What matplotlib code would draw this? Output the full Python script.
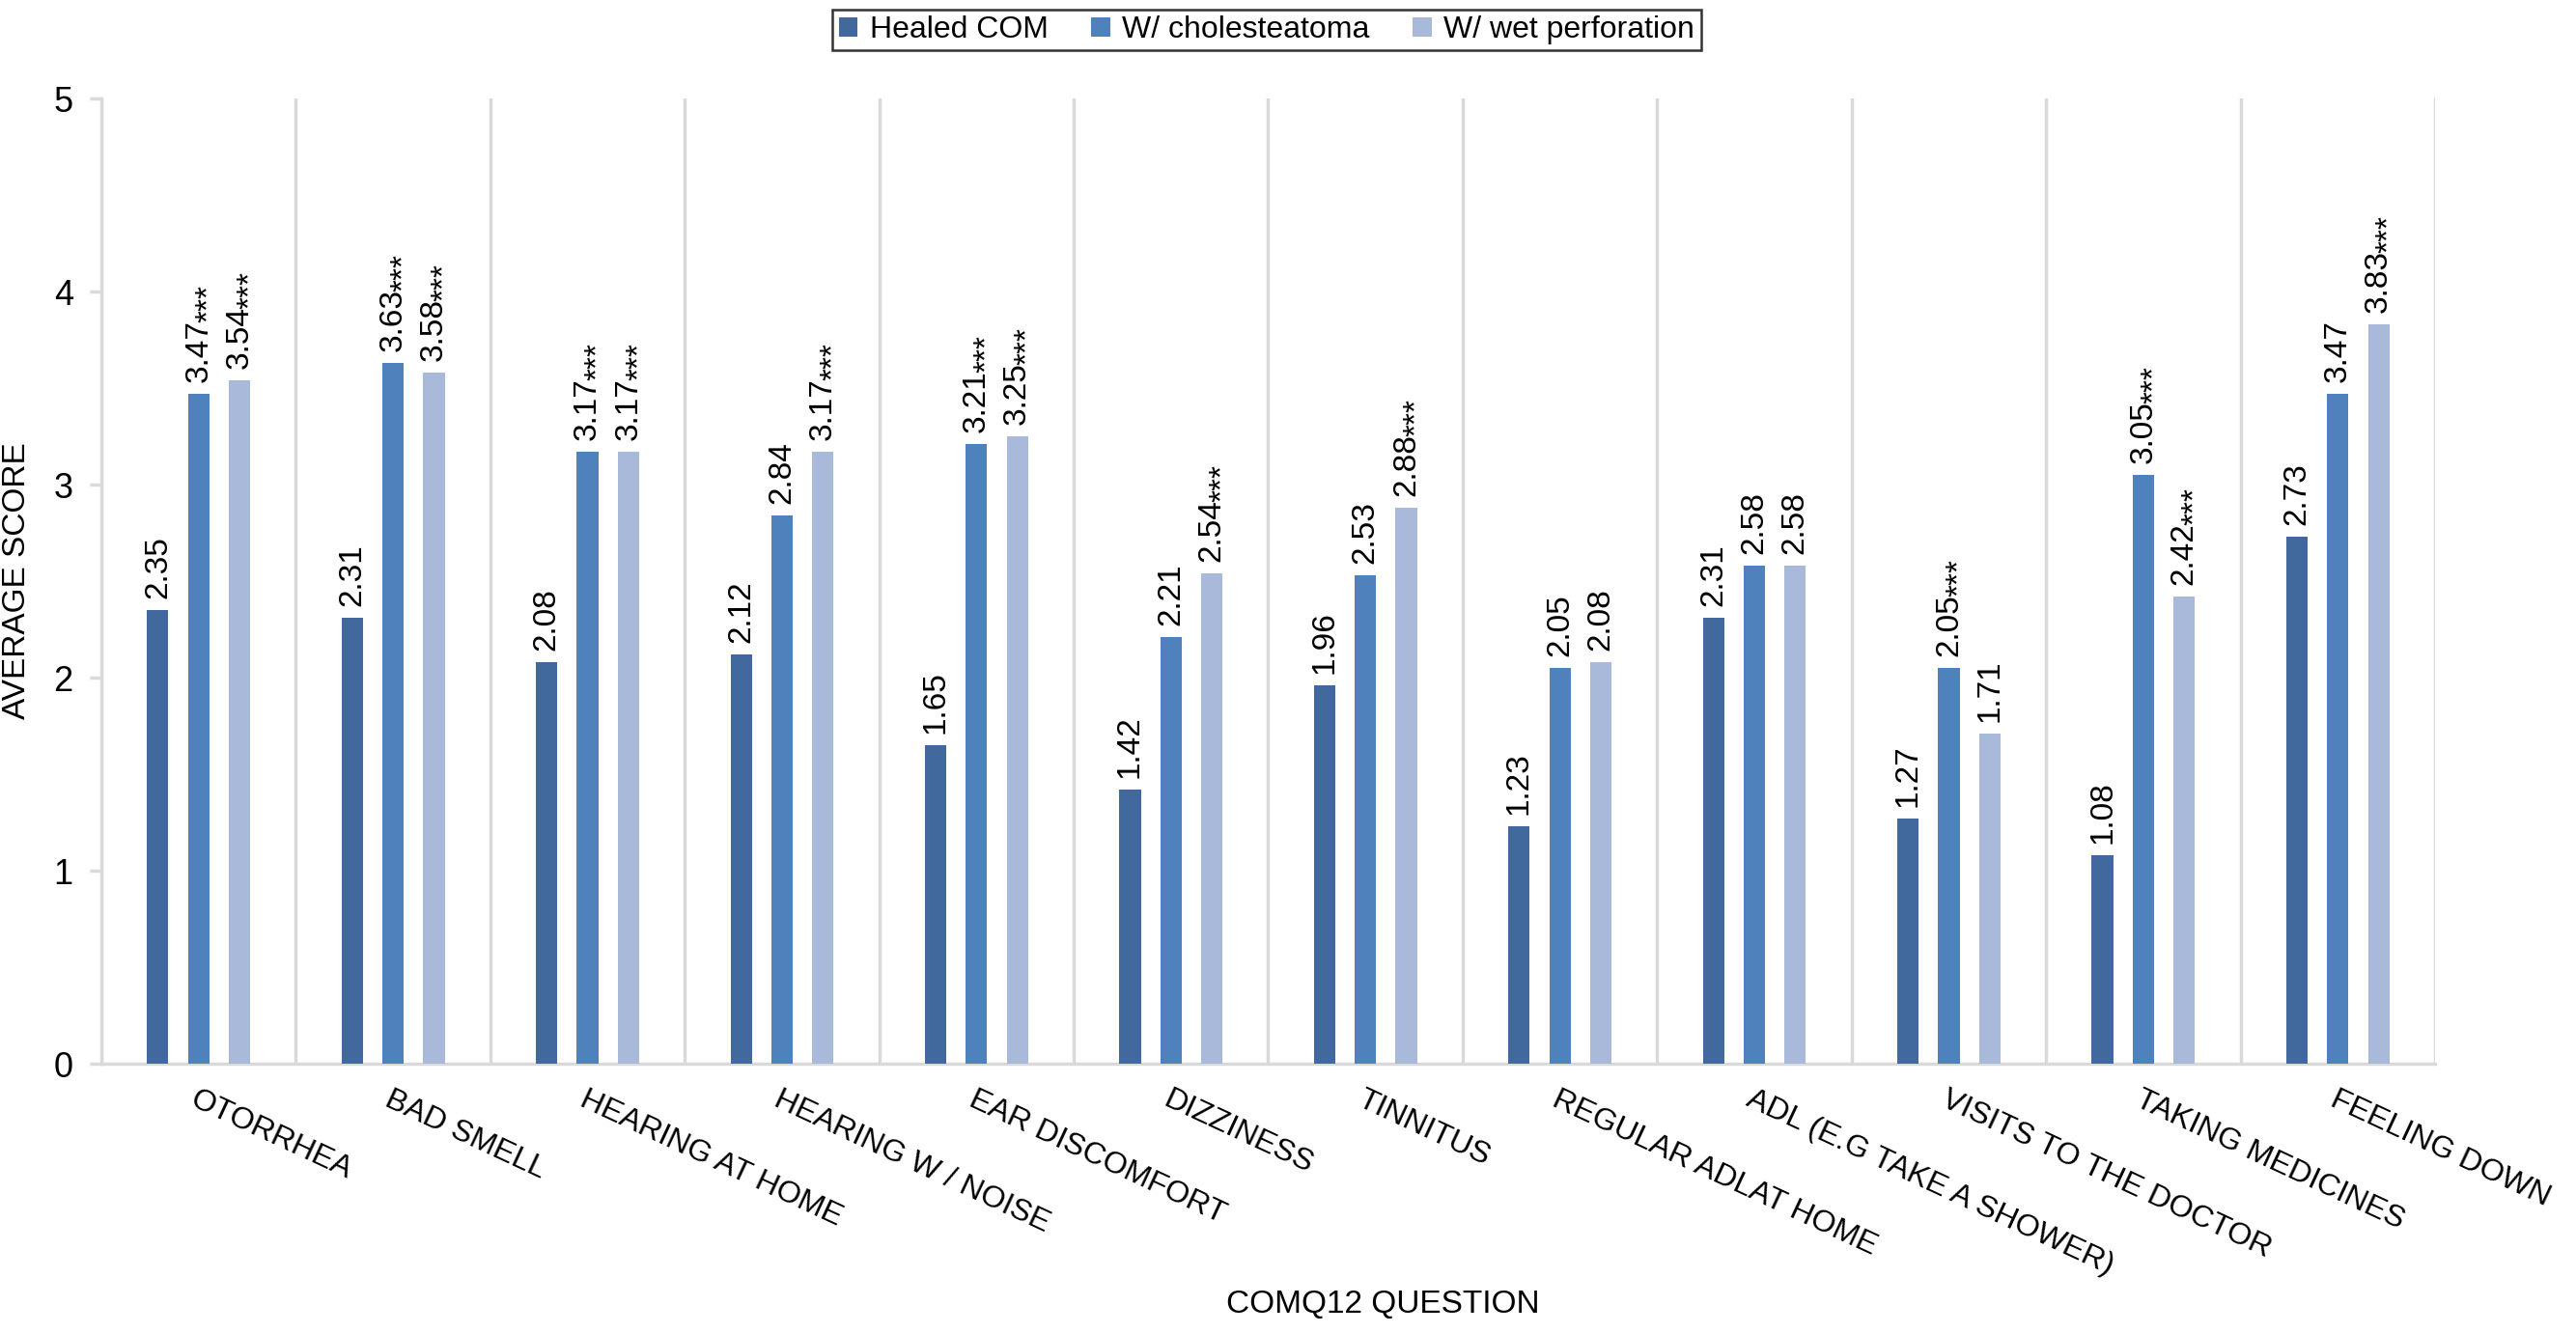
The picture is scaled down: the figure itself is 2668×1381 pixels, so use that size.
import matplotlib
matplotlib.use("Agg")
import matplotlib.pyplot as plt
import numpy as np

plt.rcParams["font.family"] = ["Liberation Sans", "DejaVu Sans"]

questions = ["OTORRHEA", "BAD SMELL", "HEARING AT HOME", "HEARING W / NOISE",
             "EAR DISCOMFORT", "DIZZINESS", "TINNITUS", "REGULAR ADLAT HOME",
             "ADL (E.G TAKE A SHOWER)", "VISITS TO THE DOCTOR",
             "TAKING MEDICINES", "FEELING DOWN"]
series_names = ["Healed COM", "W/ cholesteatoma", "W/ wet perforation"]
healed = [2.35, 2.31, 2.08, 2.12, 1.65, 1.42, 1.96, 1.23, 2.31, 1.27, 1.08, 2.73]
chol = [3.47, 3.63, 3.17, 2.84, 3.21, 2.21, 2.53, 2.05, 2.58, 2.05, 3.05, 3.47]
wet = [3.54, 3.58, 3.17, 3.17, 3.25, 2.54, 2.88, 2.08, 2.58, 1.71, 2.42, 3.83]
healed_sig = [""] * 12
chol_sig = ["***", "***", "***", "", "***", "", "", "", "", "***", "***", ""]
wet_sig = ["***", "***", "***", "***", "***", "***", "***", "", "", "", "***", "***"]

colors = ["#41699d", "#4f81bd", "#a9b9d9"]
GRID = "#d9d9d9"

fig = plt.figure(figsize=(26.68, 13.81), dpi=100)
ax = fig.add_axes([105 / 2668, 279 / 1381, (2522 - 105) / 2668, 1000 / 1381])

x = np.arange(len(questions))
width = 0.11
offsets = [-0.21, 0.0, 0.21]
all_series = [healed, chol, wet]
all_sig = [healed_sig, chol_sig, wet_sig]

number_texts = []
for vals, sigs, off, col, name in zip(all_series, all_sig, offsets, colors, series_names):
    ax.bar(x + off, vals, width, color=col, label=name, zorder=3)
    for xi, v, s in zip(x + off, vals, sigs):
        t = ax.annotate(f"{v:.2f}", (xi, v), xytext=(0, 9), textcoords="offset points",
                        rotation=90, ha="center", va="bottom", fontsize=24)
        number_texts.append((t, xi, s))

ax.set_xlim(-0.5, len(questions) - 0.5)
ax.set_ylim(0, 5)

# category separators
ax.set_xticks(np.arange(-0.5, len(questions)), minor=True)
ax.grid(True, axis="x", which="minor", color=GRID, linewidth=2.5, zorder=0)
ax.tick_params(axis="x", which="minor", length=0)

ax.set_xticks(x)
ax.set_xticklabels(questions, rotation=-25, ha="left", va="top",
                   rotation_mode="anchor", fontsize=23)
ax.tick_params(axis="x", which="major", length=0, pad=16)

ax.set_yticks(range(6))
ax.tick_params(axis="y", length=9, width=2.5, color=GRID, labelsize=26, pad=12)

for side in ["top", "right"]:
    ax.spines[side].set_visible(False)
for side in ["left", "bottom"]:
    ax.spines[side].set_color(GRID)
    ax.spines[side].set_linewidth(2.5)

ax.set_ylabel("AVERAGE SCORE", fontsize=24, labelpad=16)
fig.text(1432 / 2668, 1 - 1352 / 1381, "COMQ12 QUESTION", ha="center", va="center",
         fontsize=24)

leg = fig.legend(loc="upper center", bbox_to_anchor=(1312 / 2668, 1.0), ncol=3,
                 fontsize=23, frameon=True, fancybox=False, edgecolor="black",
                 handlelength=0.6, handleheight=0.6, handletextpad=0.4,
                 columnspacing=1.4, borderpad=0.2, borderaxespad=0.3)
leg.get_frame().set_linewidth(1.8)

# significance stars right after the value labels
fig.canvas.draw()
inv = ax.transData.inverted()
for t, xi, s in number_texts:
    if not s:
        continue
    bb = t.get_window_extent()
    xd, yd = inv.transform((bb.x0 + bb.width / 2 + 11, bb.y1 - 3))
    ax.text(xd, yd, s, rotation=90, ha="center", va="bottom", fontsize=24)

fig.savefig("out.png", dpi=100)
